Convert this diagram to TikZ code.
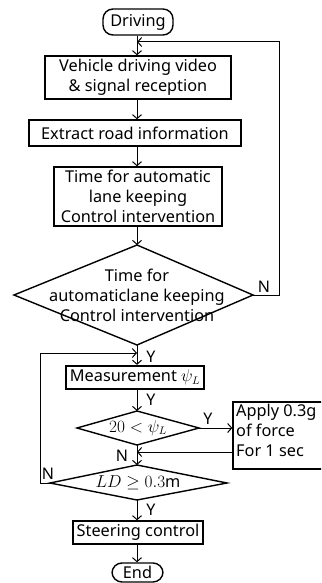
\documentclass[tikz,border=0pt]{standalone}
\usepackage{fontspec}
\setmainfont{Noto Sans}
\usetikzlibrary{arrows.meta}
\begin{document}
\begin{tikzpicture}[x=1pt,y=-1pt,
  txt/.style={font=\fontsize{16.3}{20}\selectfont, inner sep=0pt, align=center},
  box/.style={draw, line width=1.4pt, inner sep=0pt, align=center, font=\fontsize{16.3}{20}\selectfont},
  term/.style={box, rounded corners=10pt},
  flow/.style={line width=1pt, -{Straight Barb[length=4pt,width=9pt,line width=1pt]}},
  dia/.style={line width=1.4pt, line join=miter},
  lab/.style={font=\fontsize{16}{18}\selectfont, inner sep=0pt}]
\useasboundingbox (0,0) rectangle (321,583);
\clip (0,0) rectangle (321,583);

\node[term, minimum width=70pt, minimum height=26pt] (drive) at (138,22) {Driving};
\node[box, minimum width=186pt, minimum height=43pt] (b1) at (138,77.5) {Vehicle driving video\\\& signal reception};
\node[box, minimum width=212pt, minimum height=26pt] (b2) at (135,133) {Extract road information};
\node[box, minimum width=168pt, minimum height=59pt] (b3) at (138,196.5) {Time for automatic\\lane keeping\\Control intervention};

% decision 1
\coordinate (d1t) at (137,245);
\coordinate (d1r) at (253,295);
\coordinate (d1b) at (137,345);
\coordinate (d1l) at (14,295);
\draw[dia] (d1t) -- (d1r) -- (d1b) -- (d1l) -- cycle;
\node[txt] (d1) at (137,295) {Time for\\automaticlane keeping\\Control intervention};

\node[box, line width=2.2pt, minimum width=138pt, minimum height=23pt] (m) at (135,377.5) {Measurement $\psi_L$};

% decision 2
\coordinate (d2t) at (137,411);
\coordinate (d2r) at (199,428);
\coordinate (d2b) at (137,445);
\coordinate (d2l) at (77,428);
\draw[dia] (d2t) -- (d2r) -- (d2b) -- (d2l) -- cycle;
\node[txt] (d2) at (138,428) {$20 < \psi_L$};

\node[box, minimum width=92pt, minimum height=67pt] (ap) at (279,435.5) {};
\node[txt, align=left, anchor=north west] (apt) at (236,404) {Apply 0.3g\\of force\\For 1 sec};

% decision 3
\coordinate (d3t) at (137,465);
\coordinate (d3r) at (227,483);
\coordinate (d3b) at (137,500);
\coordinate (d3l) at (50,483);
\draw[dia] (d3t) -- (d3r) -- (d3b) -- (d3l) -- cycle;
\node[txt] (d3) at (138,483) {$LD \geq 0.3$m};

\node[box, minimum width=130pt, minimum height=23pt] (sc) at (138,532.5) {Steering control};
\node[term, minimum width=51pt, minimum height=19pt] (end) at (137.5,572.5) {End};

% connectors
\draw[flow] (drive.south -| 137,0) -- (b1.north -| 137,0);
\draw[flow] (b1.south -| 137,0) -- (b2.north -| 137,0);
\draw[flow] (b2.south -| 137,0) -- (b3.north -| 137,0);
\draw[flow] (b3.south -| 137,0) -- (d1t);
\coordinate (loopA) at (279,42);
\coordinate (loopAin) at (137,42);
\draw[flow] (d1r) -- (279,295) -- (loopA) -- (loopAin);
\draw[flow] (d1b) -- (m.north -| d1b);
\coordinate (loopBin) at (137,353);
\draw[flow] (d3l) -- (40,483) -- (40,353) -- (loopBin);
\draw[flow] (m.south -| d2t) -- (d2t);
\draw[flow] (d2r) -- (d2r -| ap.west);
\coordinate (backin) at (137,452);
\draw[flow] (ap.west |- backin) -- (backin);
\draw[flow] (d2b) -- (d3t);
\draw[flow] (d3b) -- (sc.north -| d3b);
\draw[flow] (sc.south -| d3b) -- (end.north -| d3b);

% labels
\node[lab] (n1) at (264,287) {N};
\node[lab] (y1) at (151,357) {Y};
\node[lab] (y2) at (151,400) {Y};
\node[lab] (y3) at (208,419) {Y};
\node[lab] (n2) at (122,456) {N};
\node[lab] (n3) at (48,474) {N};
\node[lab] (y4) at (151,510) {Y};
\end{tikzpicture}
\end{document}
